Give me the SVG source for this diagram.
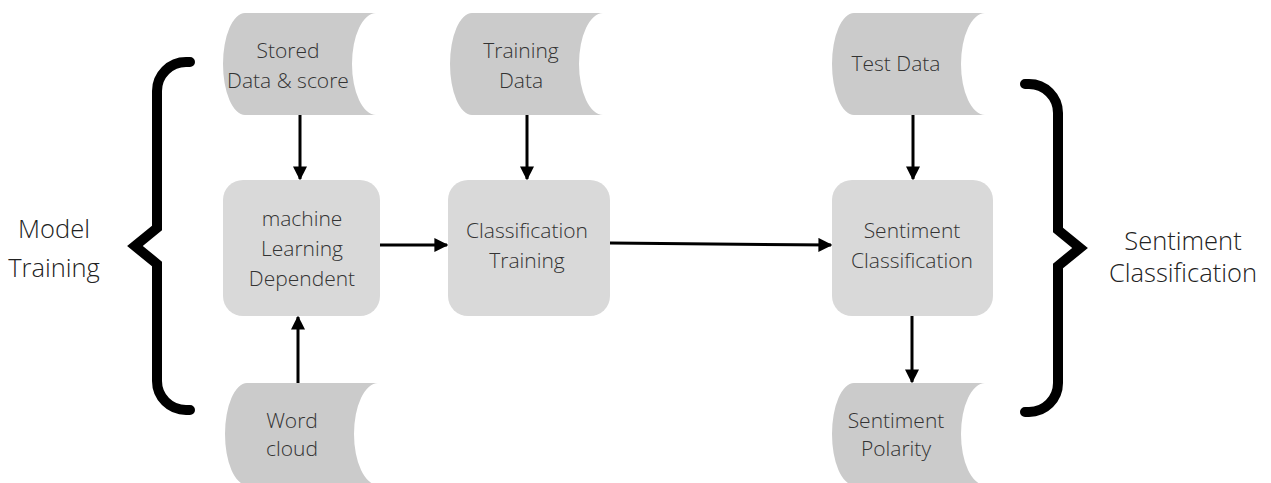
<svg xmlns="http://www.w3.org/2000/svg" width="1271" height="483" viewBox="0 0 1271 483">
  <style>
    .store { fill: #cbcbcb; }
    .box { fill: #d9d9d9; }
    .lbl { font-family: "Open Sans", "Liberation Sans", sans-serif; font-size: 21px; font-weight: 300; fill: #333333; text-anchor: middle; }
    .side { font-family: "Open Sans", "Liberation Sans", sans-serif; font-size: 25.5px; font-weight: 300; fill: #222222; text-anchor: middle; }
    .conn { stroke: #000000; stroke-width: 3; fill: none; marker-end: url(#arrow); }
    .brace { stroke: #000000; stroke-width: 10; fill: none; stroke-linecap: round; stroke-linejoin: miter; }
  </style>
  <defs>
    <!-- stored-data shape: convex left edge, concave right edge -->
    <path id="stored" d="M22,0 H153 A24 51 0 0 0 153 102 H22 A22 51 0 0 1 22 0 Z"/>
    <marker id="arrow" viewBox="0 0 10 10" refX="9" refY="5" markerWidth="14" markerHeight="14" markerUnits="userSpaceOnUse" orient="auto">
      <path d="M0,0 L10,5 L0,10 Z" fill="#000000"/>
    </marker>
  </defs>

  <rect width="1271" height="483" fill="#ffffff"/>

  <!-- braces -->
  <g id="brace-left">
    <path class="brace" d="M190,62 H186 A29 29 0 0 0 157 91 V228 L135 246 L157 264 V381 A29 29 0 0 0 186 410 H190"/>
  </g>
  <g id="brace-right">
    <path class="brace" d="M1025,84 H1029 A29 29 0 0 1 1058 113 V230 L1080 248 L1058 266 V383 A29 29 0 0 1 1029 412 H1025"/>
  </g>

  <!-- side labels -->
  <g id="label-model-training">
    <text class="side" x="54" y="238">Model</text>
    <text class="side" x="54" y="277">Training</text>
  </g>
  <g id="label-sentiment-classification">
    <text class="side" x="1183" y="250">Sentiment</text>
    <text class="side" x="1183" y="282">Classification</text>
  </g>

  <!-- data stores -->
  <g id="stored-data">
    <use href="#stored" class="store" x="223" y="13"/>
    <text class="lbl" x="288" y="58">Stored</text>
    <text class="lbl" x="288" y="88">Data &amp; score</text>
  </g>
  <g id="training-data">
    <use href="#stored" class="store" x="450" y="13"/>
    <text class="lbl" x="521" y="58">Training</text>
    <text class="lbl" x="521" y="88">Data</text>
  </g>
  <g id="test-data">
    <use href="#stored" class="store" x="832" y="13"/>
    <text class="lbl" x="896" y="71">Test Data</text>
  </g>
  <g id="word-cloud">
    <use href="#stored" class="store" x="225" y="383"/>
    <text class="lbl" x="292" y="428">Word</text>
    <text class="lbl" x="292" y="456">cloud</text>
  </g>
  <g id="sentiment-polarity">
    <use href="#stored" class="store" x="832" y="383"/>
    <text class="lbl" x="896" y="428">Sentiment</text>
    <text class="lbl" x="896" y="456">Polarity</text>
  </g>

  <!-- process boxes -->
  <g id="ml-dependent">
    <rect class="box" x="223" y="180" width="157" height="136" rx="20"/>
    <text class="lbl" x="302" y="226">machine</text>
    <text class="lbl" x="302" y="256">Learning</text>
    <text class="lbl" x="302" y="286">Dependent</text>
  </g>
  <g id="classification-training">
    <rect class="box" x="448" y="180" width="162" height="136" rx="20"/>
    <text class="lbl" x="527" y="238">Classification</text>
    <text class="lbl" x="527" y="268">Training</text>
  </g>
  <g id="sentiment-classification">
    <rect class="box" x="832" y="180" width="161" height="136" rx="20"/>
    <text class="lbl" x="912" y="238">Sentiment</text>
    <text class="lbl" x="912" y="268">Classification</text>
  </g>

  <!-- connectors -->
  <g id="connectors">
    <line class="conn" x1="300" y1="115" x2="300" y2="179"/>
    <line class="conn" x1="298" y1="383" x2="298" y2="317"/>
    <line class="conn" x1="380" y1="245" x2="447" y2="245"/>
    <line class="conn" x1="527" y1="115" x2="527" y2="179"/>
    <line class="conn" x1="610" y1="243" x2="831" y2="245"/>
    <line class="conn" x1="913" y1="115" x2="913" y2="179"/>
    <line class="conn" x1="912" y1="316" x2="912" y2="382"/>
  </g>
</svg>
